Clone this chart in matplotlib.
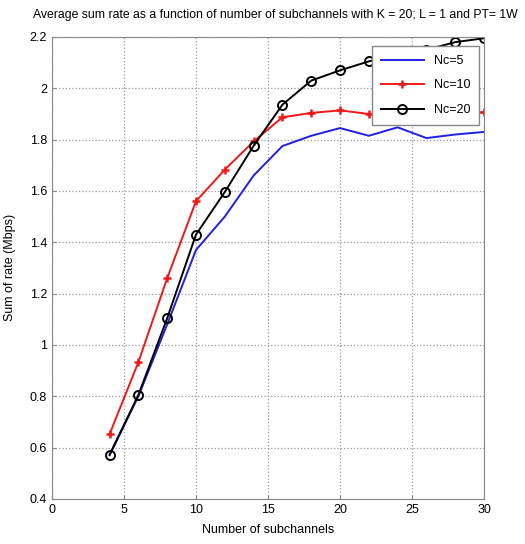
import numpy as np
import matplotlib.pyplot as plt
from matplotlib.ticker import FormatStrFormatter

plt.rcParams['font.family'] = ['Liberation Sans', 'DejaVu Sans']

# data
subchannels = [4, 6, 8, 10, 12, 14, 16, 18, 20, 22, 24, 26, 28, 30]
rate_nc5 = [0.57, 0.80, 1.08, 1.37, 1.50, 1.66, 1.775, 1.815, 1.845, 1.815, 1.848, 1.806, 1.82, 1.83]
rate_nc10 = [0.652, 0.933, 1.26, 1.56, 1.683, 1.793, 1.887, 1.904, 1.914, 1.90, 1.905, 1.905, 1.905, 1.906]
rate_nc20 = [0.572, 0.805, 1.104, 1.43, 1.596, 1.776, 1.936, 2.03, 2.07, 2.105, 2.13, 2.15, 2.18, 2.195]

x_ticks = [0, 5, 10, 15, 20, 25, 30]
y_ticks = [0.4, 0.6, 0.8, 1.0, 1.2, 1.4, 1.6, 1.8, 2.0, 2.2]

fig = plt.figure(figsize=(5.25, 5.44), dpi=100)
ax = fig.add_axes([0.099, 0.083, 0.823, 0.849])

ax.plot(subchannels, rate_nc5, color='#1f1fe6', lw=1.4, label='Nc=5')
ax.plot(subchannels, rate_nc10, color='#f01818', lw=1.4, marker='+',
        markersize=6, markeredgewidth=1.8, label='Nc=10')
ax.plot(subchannels, rate_nc20, color='black', lw=1.4, marker='o',
        markersize=6.5, markerfacecolor='none', markeredgewidth=1.4, label='Nc=20')

ax.set_xlim(0, 30)
ax.set_ylim(0.4, 2.2)
ax.set_xticks(x_ticks)
ax.set_yticks(y_ticks)
ax.yaxis.set_major_formatter(FormatStrFormatter('%g'))
ax.tick_params(direction='in', labelsize=9, length=3, color='#888888')
ax.grid(True, linestyle=':', color='#999999', lw=0.9)
for s in ax.spines.values():
    s.set_color('#888888')

ax.set_xlabel('Number of subchannels', fontsize=9, labelpad=6)
ax.set_ylabel('Sum of rate (Mbps)', fontsize=9, labelpad=10)

fig.text(0.524, 0.972, 'Average sum rate as a function of number of subchannels with K = 20; L = 1 and PT= 1W',
         ha='center', va='center', fontsize=8.8)

leg = ax.legend(loc='upper right', bbox_to_anchor=(0.988, 0.98), borderaxespad=0,
                fontsize=9, handlelength=3.4, fancybox=False, framealpha=1,
                edgecolor='#888888', borderpad=0.7, labelspacing=1.0)

fig.savefig('out.png', dpi=100)
